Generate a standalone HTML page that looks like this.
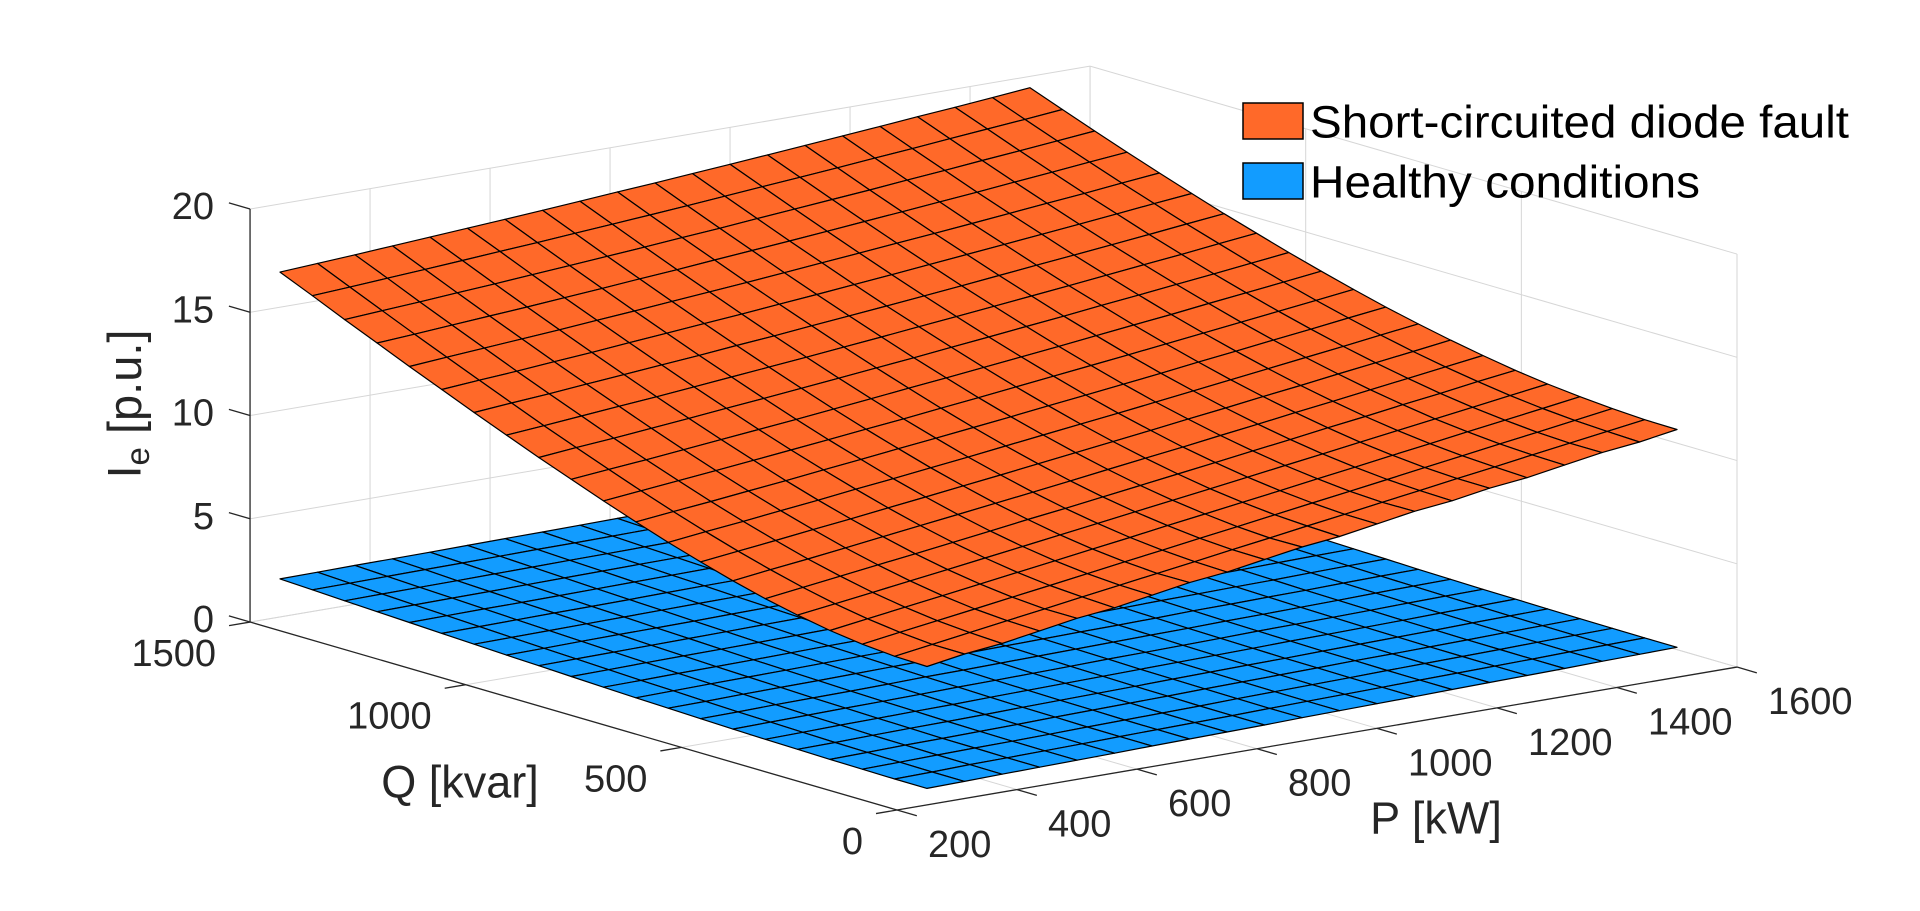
<!DOCTYPE html>
<html><head><meta charset="utf-8">
<style>
html,body{margin:0;padding:0;background:#fff;}
svg{display:block;font-family:"Liberation Sans",Arial,sans-serif;}
</style></head>
<body>
<svg id="chart" width="1920" height="911" viewBox="0 0 1920 911" xmlns="http://www.w3.org/2000/svg">
<g id="grid"></g>
<g id="surfaces"></g>
<g id="axes"></g>
<g id="legend">
  <rect x="1243" y="103" width="60" height="36" fill="#FF6929" stroke="#000" stroke-width="1.5"/>
  <text x="1310" y="122" font-size="45" dominant-baseline="central" textLength="539" lengthAdjust="spacingAndGlyphs">Short-circuited diode fault</text>
  <rect x="1243" y="163" width="60" height="36" fill="#129CFF" stroke="#000" stroke-width="1.5"/>
  <text x="1310" y="182" font-size="45" dominant-baseline="central" textLength="390" lengthAdjust="spacingAndGlyphs">Healthy conditions</text>
</g>
<text x="1436" y="818" font-size="45" fill="#262626" text-anchor="middle" dominant-baseline="central">P [kW]</text>
<text x="460" y="782" font-size="45" fill="#262626" text-anchor="middle" dominant-baseline="central">Q [kvar]</text>
<text transform="translate(124,404) rotate(-90)" font-size="47" fill="#262626" text-anchor="middle" dominant-baseline="central">I<tspan font-size="33" dy="13">e</tspan><tspan dy="-13"> [p.u.]</tspan></text>
</svg>
<script>
// ---- data ----
const pValues = [250,312.5,375,437.5,500,562.5,625,687.5,750,812.5,875,937.5,1000,1062.5,1125,1187.5,1250,1312.5,1375,1437.5,1500];
const qValues = [0,75,150,225,300,375,450,525,600,675,750,825,900,975,1050,1125,1200,1275,1350,1425,1500];
const pTicks = [200,400,600,800,1000,1200,1400,1600];
const qTicks = [0,500,1000,1500];
const zTicks = [0,5,10,15,20];
// fault surface: rows = Q index, columns = P index
const faultZ = [
[6.7,7.0,7.2,7.5,7.8,8.0,8.3,8.6,8.8,9.1,9.4,9.6,9.9,10.2,10.4,10.7,10.9,11.2,11.5,11.7,12.0],
[6.74,7.01,7.27,7.54,7.80,8.07,8.33,8.59,8.85,9.12,9.38,9.65,9.91,10.18,10.44,10.71,10.97,11.24,11.50,11.76,12.02],
[6.87,7.14,7.39,7.65,7.91,8.17,8.43,8.70,8.95,9.22,9.47,9.74,10.0,10.26,10.52,10.79,11.05,11.32,11.57,11.84,12.10],
[7.08,7.34,7.59,7.84,8.09,8.35,8.60,8.86,9.11,9.38,9.63,9.89,10.14,10.41,10.66,10.93,11.18,11.45,11.70,11.96,12.22],
[7.37,7.61,7.85,8.10,8.34,8.59,8.84,9.09,9.34,9.59,9.84,10.09,10.34,10.60,10.85,11.11,11.36,11.62,11.87,12.13,12.38],
[7.71,7.95,8.18,8.42,8.65,8.89,9.13,9.38,9.61,9.86,10.10,10.35,10.59,10.85,11.09,11.35,11.59,11.85,12.09,12.35,12.59],
[8.12,8.35,8.56,8.79,9.02,9.25,9.48,9.71,9.94,10.18,10.42,10.66,10.89,11.14,11.38,11.63,11.87,12.12,12.36,12.61,12.85],
[8.58,8.79,9.00,9.22,9.43,9.65,9.87,10.10,10.32,10.55,10.78,11.01,11.24,11.48,11.71,11.95,12.18,12.43,12.66,12.90,13.14],
[9.07,9.28,9.47,9.68,9.88,10.10,10.30,10.52,10.73,10.96,11.18,11.40,11.62,11.85,12.08,12.31,12.54,12.77,13.00,13.24,13.47],
[9.61,9.80,9.98,10.18,10.37,10.58,10.78,10.99,11.19,11.40,11.61,11.83,12.04,12.26,12.48,12.71,12.93,13.16,13.38,13.61,13.83],
[10.17,10.35,10.53,10.71,10.90,11.09,11.28,11.48,11.67,11.88,12.08,12.29,12.50,12.71,12.92,13.14,13.35,13.57,13.79,14.01,14.23],
[10.76,10.93,11.09,11.27,11.45,11.63,11.81,12.00,12.19,12.39,12.58,12.78,12.98,13.18,13.39,13.60,13.80,14.02,14.23,14.44,14.66],
[11.36,11.53,11.68,11.85,12.02,12.20,12.37,12.55,12.73,12.92,13.10,13.30,13.49,13.69,13.88,14.09,14.28,14.49,14.69,14.90,15.11],
[11.99,12.14,12.30,12.46,12.61,12.78,12.95,13.12,13.29,13.47,13.65,13.84,14.02,14.21,14.40,14.59,14.79,14.99,15.18,15.39,15.59],
[12.63,12.78,12.92,13.08,13.23,13.39,13.54,13.71,13.87,14.05,14.22,14.39,14.57,14.75,14.94,15.13,15.31,15.50,15.69,15.89,16.08],
[13.29,13.43,13.56,13.71,13.85,14.01,14.16,14.32,14.47,14.64,14.80,14.97,15.14,15.32,15.50,15.68,15.86,16.04,16.23,16.42,16.60],
[13.95,14.09,14.22,14.36,14.49,14.64,14.78,14.94,15.09,15.24,15.40,15.57,15.73,15.90,16.07,16.24,16.42,16.60,16.77,16.96,17.14],
[14.63,14.75,14.88,15.01,15.14,15.28,15.42,15.57,15.71,15.87,16.02,16.17,16.33,16.50,16.66,16.83,16.99,17.17,17.34,17.52,17.69],
[15.31,15.43,15.55,15.68,15.80,15.94,16.07,16.21,16.35,16.50,16.64,16.80,16.95,17.11,17.26,17.43,17.59,17.76,17.92,18.09,18.26],
[16.01,16.12,16.24,16.36,16.48,16.61,16.73,16.87,17.00,17.14,17.28,17.43,17.58,17.73,17.88,18.04,18.19,18.36,18.52,18.68,18.85],
[16.70,16.81,16.92,17.04,17.16,17.28,17.40,17.53,17.66,17.80,17.93,18.07,18.21,18.36,18.51,18.66,18.81,18.97,19.12,19.28,19.45]
];
// healthy surface: rows = Q index, columns = P index
const healthyZ = [
[.80,.83,.87,.90,.93,.96,1.00,1.03,1.06,1.09,1.13,1.16,1.19,1.22,1.26,1.29,1.32,1.35,1.39,1.42,1.45],
[.80,.83,.88,.90,.93,.96,1.00,1.03,1.06,1.09,1.13,1.16,1.19,1.22,1.26,1.29,1.32,1.35,1.39,1.42,1.45],
[.82,.85,.89,.92,.94,.97,1.01,1.04,1.07,1.10,1.14,1.17,1.20,1.23,1.27,1.30,1.33,1.36,1.40,1.43,1.46],
[.84,.87,.91,.93,.96,.99,1.03,1.06,1.09,1.12,1.16,1.19,1.22,1.25,1.29,1.31,1.34,1.37,1.41,1.44,1.47],
[.87,.89,.93,.96,.98,1.01,1.05,1.08,1.11,1.14,1.18,1.21,1.24,1.26,1.30,1.33,1.36,1.39,1.43,1.46,1.49],
[.90,.93,.97,.99,1.02,1.04,1.08,1.11,1.14,1.17,1.20,1.23,1.26,1.29,1.33,1.35,1.38,1.41,1.45,1.48,1.51],
[.94,.97,1.00,1.03,1.05,1.08,1.12,1.14,1.17,1.20,1.24,1.26,1.29,1.32,1.36,1.38,1.41,1.44,1.48,1.51,1.53],
[.99,1.01,1.05,1.07,1.09,1.12,1.16,1.18,1.21,1.24,1.27,1.30,1.33,1.35,1.39,1.41,1.44,1.47,1.51,1.54,1.56],
[1.04,1.06,1.10,1.12,1.14,1.17,1.20,1.23,1.25,1.28,1.31,1.34,1.36,1.39,1.43,1.45,1.48,1.50,1.54,1.57,1.59],
[1.09,1.12,1.15,1.17,1.19,1.22,1.25,1.27,1.30,1.32,1.36,1.38,1.41,1.43,1.47,1.49,1.52,1.54,1.58,1.61,1.63],
[1.15,1.17,1.20,1.22,1.24,1.27,1.30,1.32,1.35,1.37,1.40,1.43,1.45,1.48,1.51,1.53,1.56,1.58,1.62,1.65,1.67],
[1.21,1.23,1.26,1.28,1.30,1.32,1.35,1.38,1.40,1.42,1.45,1.48,1.50,1.52,1.56,1.58,1.60,1.63,1.66,1.69,1.71],
[1.28,1.30,1.32,1.34,1.36,1.38,1.41,1.43,1.45,1.48,1.51,1.53,1.55,1.58,1.61,1.63,1.65,1.68,1.71,1.74,1.76],
[1.34,1.36,1.39,1.41,1.42,1.44,1.47,1.49,1.51,1.53,1.56,1.59,1.61,1.63,1.66,1.68,1.70,1.73,1.76,1.78,1.81],
[1.41,1.43,1.45,1.47,1.49,1.51,1.53,1.55,1.57,1.59,1.62,1.64,1.66,1.69,1.71,1.73,1.76,1.78,1.81,1.84,1.86],
[1.48,1.50,1.52,1.54,1.55,1.57,1.60,1.62,1.63,1.66,1.68,1.70,1.72,1.74,1.77,1.79,1.81,1.84,1.87,1.89,1.91],
[1.55,1.57,1.59,1.60,1.62,1.64,1.66,1.68,1.70,1.72,1.74,1.76,1.78,1.80,1.83,1.85,1.87,1.89,1.92,1.95,1.97],
[1.62,1.64,1.66,1.67,1.69,1.71,1.73,1.75,1.76,1.78,1.81,1.83,1.85,1.87,1.89,1.91,1.93,1.95,1.98,2.00,2.02],
[1.69,1.71,1.73,1.74,1.76,1.78,1.80,1.81,1.83,1.85,1.87,1.89,1.91,1.93,1.95,1.97,1.99,2.01,2.04,2.06,2.08],
[1.77,1.78,1.80,1.82,1.83,1.85,1.87,1.88,1.90,1.92,1.94,1.96,1.98,1.99,2.02,2.04,2.06,2.08,2.10,2.12,2.14],
[1.84,1.86,1.88,1.89,1.90,1.92,1.94,1.95,1.97,1.99,2.01,2.03,2.04,2.06,2.08,2.10,2.12,2.14,2.16,2.19,2.20]
];

// ---- projection (axis functions) ----
const P0 = 200, P1 = 1600, Q0 = 0, Q1 = 1500, Z0 = 0, Z1 = 20;
function projX(p, q, z) { return 897 + 0.6 * (p - P0) - 0.4313 * (q - Q0); }
function projY(p, q, z) { return 810 - 0.1021 * (p - P0) - 0.1253 * (q - Q0) - 20.65 * (z - Z0); }
function pt(p, q, z) { return projX(p, q, z).toFixed(1) + ',' + projY(p, q, z).toFixed(1); }

const NS = 'http://www.w3.org/2000/svg';
function mk(tag, attrs, parent) {
  const el = document.createElementNS(NS, tag);
  for (const k in attrs) el.setAttribute(k, attrs[k]);
  parent.appendChild(el);
  return el;
}
const grid = document.getElementById('grid');
const surf = document.getElementById('surfaces');
const axes = document.getElementById('axes');
const GC = '#d6d6d6';

function line(parent, a, b, color, w, name) {
  const el = mk('line', {x1: projX(...a), y1: projY(...a), x2: projX(...b), y2: projY(...b), stroke: color, 'stroke-width': w}, parent);
  
  
  return el;
}

pTicks.forEach(p => {
  if (p !== P0) line(grid, [p, Q1, Z0], [p, Q1, Z1], GC, 1, 'grid-line-back-wall-p');
  line(grid, [p, Q0, Z0], [p, Q1, Z0], GC, 1, 'grid-line-floor-p');
});
qTicks.forEach(q => {
  line(grid, [P1, q, Z0], [P1, q, Z1], GC, 1, 'grid-line-side-wall-q');
  line(grid, [P0, q, Z0], [P1, q, Z0], GC, 1, 'grid-line-floor-q');
});
zTicks.forEach(z => {
  line(grid, [P0, Q1, z], [P1, Q1, z], GC, 1, 'grid-line-back-wall-z');
  line(grid, [P1, Q0, z], [P1, Q1, z], GC, 1, 'grid-line-side-wall-z');
});

function drawSurface(Z, color, name) {
  const g = mk('g', {}, surf);
  
  
  const cells = [];
  for (let j = 0; j < qValues.length - 1; j++)
    for (let i = 0; i < pValues.length - 1; i++) cells.push([i, j]);
  cells.sort((a, b) => (b[0] + b[1]) - (a[0] + a[1]));
  cells.forEach(([i, j]) => {
    const pts = [
      pt(pValues[i], qValues[j], Z[j][i]),
      pt(pValues[i + 1], qValues[j], Z[j][i + 1]),
      pt(pValues[i + 1], qValues[j + 1], Z[j + 1][i + 1]),
      pt(pValues[i], qValues[j + 1], Z[j + 1][i])
    ].join(' ');
    const poly = mk('polygon', {points: pts, fill: color, stroke: '#000', 'stroke-width': 1.2, 'stroke-linejoin': 'round'}, g);
    
    
  });
}
drawSurface(healthyZ, '#129CFF', 'healthy-surface');
drawSurface(faultZ, '#FF6929', 'fault-surface');

const AC = '#262626';
line(axes, [P0, Q0, Z0], [P1, Q0, Z0], AC, 1.3, 'x-axis-line');
line(axes, [P0, Q0, Z0], [P0, Q1, Z0], AC, 1.3, 'y-axis-line');
line(axes, [P0, Q1, Z0], [P0, Q1, Z1], AC, 1.3, 'z-axis-line');

function label(x, y, txt, anchor, name) {
  const t = mk('text', {x: x, y: y, 'font-size': 38, fill: AC, 'text-anchor': anchor, 'dominant-baseline': 'central'}, axes);
  t.textContent = txt;
  
  
}
pTicks.forEach(p => {
  line(axes, [p, Q0, Z0], [p, Q0 - 46, Z0], AC, 1.3, 'x-tick');
  label(projX(p, Q0, Z0) + 31, projY(p, Q0, Z0) + 35, String(p), 'start', 'x-tick-label');
});
qTicks.forEach(q => {
  line(axes, [P0, q, Z0], [P0 - 35, q, Z0], AC, 1.3, 'y-tick');
  label(projX(P0, q, Z0) - 34, projY(P0, q, Z0) + 32, String(q), 'end', 'y-tick-label');
});
zTicks.forEach(z => {
  line(axes, [P0, Q1, z], [P0, Q1 + 49, z], AC, 1.3, 'z-tick');
  label(projX(P0, Q1, z) - 36, projY(P0, Q1, z) - 2, String(z), 'end', 'z-tick-label');
});
</script>
</body></html>
